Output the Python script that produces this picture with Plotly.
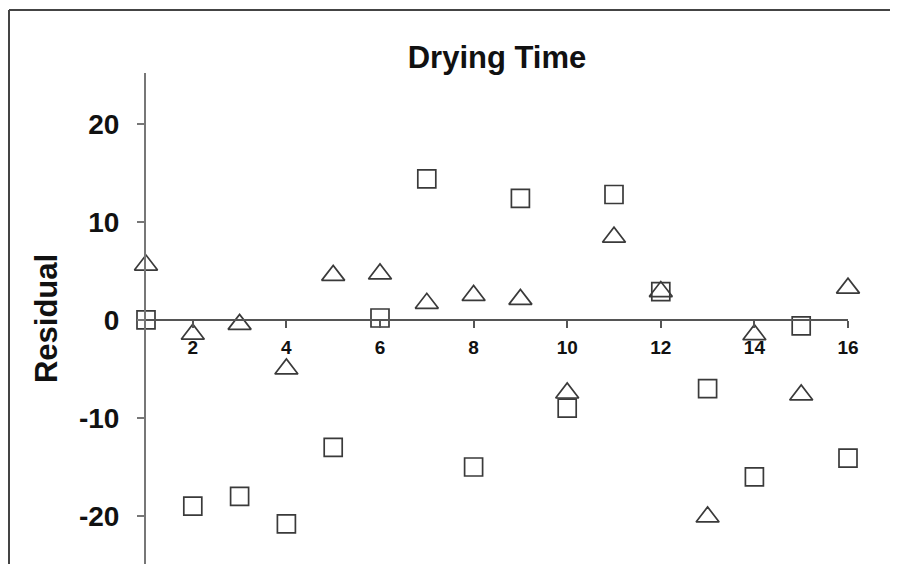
import plotly.graph_objects as go

# Data
run = list(range(1, 17))
resid_square = [0.0, -19.0, -18.0, -20.8, -13.0, 0.2, 14.4, -15.0, 12.4, -9.0, 12.8, 2.9, -7.0, -16.0, -0.6, -14.1]
resid_triangle = [5.6, -1.45, -0.45, -5.0, 4.55, 4.7, 1.7, 2.5, 2.1, -7.45, 8.45, 2.9, -20.1, -1.5, -7.65, 3.25]
x_ticks = [2, 4, 6, 8, 10, 12, 14, 16]
y_ticks = [-20, -10, 0, 10, 20]

# page body has an 8px margin; compensate so the plot lands where the reference has it
OFF = 8
W, H = 898 - 2 * OFF, 564 - OFF
L, R, T, B = 146 - OFF, 42, 73 - OFF, 0
y_range = [-24.9, 25.2]
zero_pos = (0 - y_range[0]) / (y_range[1] - y_range[0])

mk_line = dict(color="#3a3a3a", width=1.7)

fig = go.Figure()
fig.add_trace(go.Scatter(
    x=run, y=resid_square, mode="markers", cliponaxis=False,
    marker=dict(symbol="square-open", size=18, color="#3a3a3a", line=mk_line),
    showlegend=False,
))
fig.add_trace(go.Scatter(
    x=run, y=resid_triangle, mode="markers", cliponaxis=False,
    marker=dict(symbol="triangle-up-open", size=20, color="#3a3a3a", line=mk_line),
    showlegend=False,
))

# outer frame (left and top edges visible in reference)
pw, ph = W - L - R, H - T - B
fx = (9 - OFF - L) / pw
fy = (H - B - (10 - OFF)) / ph
fig.add_shape(type="line", xref="paper", yref="paper", x0=fx, x1=fx, y0=-0.2, y1=fy,
              line=dict(color="#444444", width=2))
fig.add_shape(type="line", xref="paper", yref="paper", x0=fx, x1=1.3, y0=fy, y1=fy,
              line=dict(color="#444444", width=2))

fig.update_layout(
    width=W, height=H,
    margin=dict(l=L, r=R, t=T, b=B, pad=0),
    paper_bgcolor="white", plot_bgcolor="white",
    font=dict(family="Arial, Liberation Sans, sans-serif", color="#111111"),
    title=dict(text="<b>Drying Time</b>", x=(L + pw / 2) / W, xanchor="center",
               y=1 - (57 - OFF) / H, yanchor="middle",
               font=dict(size=31, color="#111111")),
    xaxis=dict(range=[1, 16], anchor="free", position=zero_pos,
               tickvals=x_ticks, ticktext=[f"<b>{v}</b>" for v in x_ticks],
               ticks="outside", ticklen=7, tickwidth=2, tickcolor="#555555",
               showline=True, linecolor="#555555", linewidth=2,
               showgrid=False, zeroline=False,
               ticklabelstandoff=3,
               tickfont=dict(size=19, color="#111111")),
    yaxis=dict(range=y_range,
               tickvals=y_ticks, ticktext=[f"<b>{v}</b>" for v in y_ticks],
               ticks="outside", ticklen=7, tickwidth=2, tickcolor="#777777",
               showline=True, linecolor="#777777", linewidth=2,
               showgrid=False, zeroline=False,
               ticklabelstandoff=12,
               tickfont=dict(size=28, color="#111111"),
               title=dict(text="<b>Residual</b>", font=dict(size=31, color="#111111"),
                          standoff=12)),
)

fig.write_html("out.html")
